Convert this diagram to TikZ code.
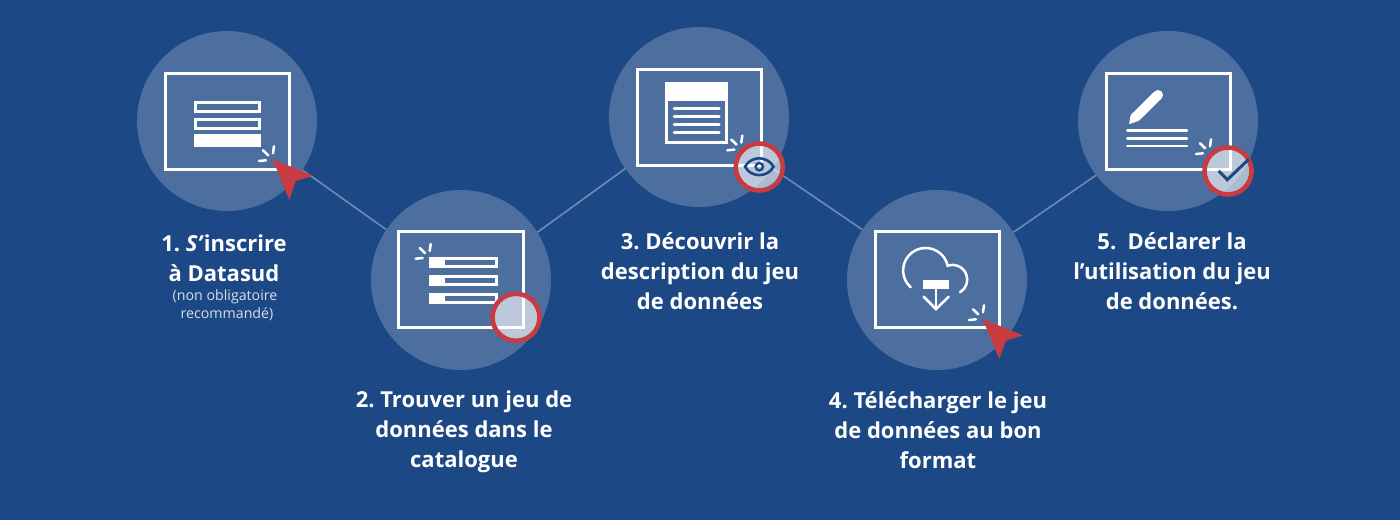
\documentclass[tikz,border=0pt]{standalone}
\usepackage{fontspec}
\setmainfont{Open Sans}
\definecolor{bgblue}{HTML}{1C4885}
\definecolor{discblue}{HTML}{4D6F9F}
\definecolor{linkblue}{HTML}{6F8BB3}
\definecolor{cursorred}{HTML}{C83C41}
\definecolor{smalltext}{HTML}{D5DEEA}

\begin{document}
\frenchspacing
\begin{tikzpicture}[>=stealth,x=1pt,y=-1pt,
    disc/.style={circle,fill=discblue,minimum size=180pt,inner sep=0pt},
    link/.style={draw=linkblue,line width=1.6pt},
    screen/.style={draw=white,line width=3pt},
    bar/.style={draw=white,line width=3pt},
    rule/.style={draw=white,line width=2.5pt,line cap=round},
    spark/.style={draw=white,line width=2.5pt,line cap=round},
    cursor/.style={fill=cursorred},
    lens/.style={circle,draw=cursorred,line width=4.6pt,fill=white,fill opacity=0.63,draw opacity=1,minimum size=47pt,inner sep=0pt},
    glyph/.style={draw=bgblue,line width=3pt},
    steplabel/.style={align=center,text=white,font=\fontsize{22}{30}\selectfont\bfseries,inner sep=0pt},
    smalllabel/.style={align=center,text=smalltext,font=\fontsize{14.2}{18}\selectfont,inner sep=0pt}]
    \useasboundingbox (0,0) rectangle (1400,520);
    \fill[bgblue] (0,0) rectangle (1400,520);
    % discs
    \node[disc] (disc1) at (227,121) {};
    \node[disc] (disc2) at (461,280) {};
    \node[disc] (disc3) at (699,117) {};
    \node[disc] (disc4) at (937,280) {};
    \node[disc] (disc5) at (1168,121) {};
    % links
    \draw[link] (disc1.-33.3) -- (disc2.146);
    \draw[link] (disc2.32.3) -- (disc3.215.9);
    \draw[link] (disc3.-35.5) -- (disc4.146.3);
    \draw[link] (disc4.32.2) -- (disc5.217.2);
    % screens
    \draw[screen] (165,73) rectangle (289,169);
    \draw[screen] (398.5,231.5) rectangle (523,327.5);
    \draw[screen] (637,69) rectangle (761,165);
    \draw[screen] (875,231.5) rectangle (999.5,327.5);
    \draw[screen] (1106,73) rectangle (1230,169);
    % sparks
    \foreach \dx/\dy in {0/0,156.7/97.7,468.3/-10.7,710/159,937/-7} {
        \draw[spark] (259+\dx,161+\dy) -- (266+\dx,160.3+\dy);
        \draw[spark] (263+\dx,150.3+\dy) -- (268.3+\dx,155.3+\dy);
        \draw[spark] (274+\dx,146.3+\dy) -- (273+\dx,153.3+\dy);
    }
    % form of step 1
    \draw[bar] (195.5,102.2) rectangle (259.2,111.2);
    \draw[bar] (195.5,119.2) rectangle (259.2,128.2);
    \fill[white] (194,134.3) rectangle (260.7,146.7);
    % list of step 2
    \foreach \y in {257,275,293} {
        \fill[white] (429.3,\y) rectangle (498,\y+11);
        \fill[discblue] (445,\y+3) rectangle (495,\y+8.3);
    }
    % sheet of step 3
    \fill[white] (665,82) rectangle (728,144);
    \fill[discblue] (668,101) rectangle (725,141);
    \foreach \y in {108.7,116.7,124.7,132.7} {
        \draw[rule] (674,\y) -- (719.3,\y);
    }
    % cloud of step 4
    \draw[rule] (910.7,287.3) arc[start angle=228.5,end angle=12,radius=22.5pt]
        arc[start angle=109.6,end angle=-59,radius=14.7pt];
    \fill[white] (923.3,280) rectangle (949.3,288.7);
    \draw[rule] (936,288.7) -- (936,309);
    \draw[rule] (923.7,296.7) -- (936,309) -- (948.7,296.7);
    % pencil of step 5
    \fill[white] (1158,95) circle[radius=5pt];
    \fill[white,rounded corners=0.8pt] (1154.5,91.5) -- (1161.5,98.5) -- (1139,120.7) -- (1129,124.3) -- (1130.7,115) -- cycle;
    \foreach \y in {130.7,138.3,146} {
        \draw[rule] (1127.3,\y) -- (1187,\y);
    }
    % cursors
    \fill[cursor] (272.7,159.3) -- (313.3,175.7) -- (295.7,181) -- (289.3,200) -- cycle;
    \fill[cursor] (982.7,319) -- (1023,335.3) -- (1006,340.7) -- (999.3,359) -- cycle;
    % lenses
    \node[lens] (lens2) at (516,317.3) {};
    \node[lens] (lens3) at (759.3,167) {};
    \node[lens] (lens5) at (1228,171) {};
    % eye
    \draw[glyph,line width=2.6pt] (745,166.7) .. controls (751,155.5) and (767.5,155.5) .. (773.5,166.7)
        .. controls (767.5,177.9) and (751,177.9) .. cycle;
    \draw[glyph,line width=2.4pt] (759.3,166.7) circle[radius=3.7pt];
    % check
    \draw[glyph] (1218.7,171) -- (1227.3,179.7) -- (1248.7,159.3);
    % labels
    \node[steplabel] (label1) at (224,258) {1. \textit{S’}inscrire\\à Datasud};
    \node[smalllabel] (note1) at (225,305) {(non obligatoire\\ \hspace{4pt}recommandé)};
    \node[steplabel] (label2) at (464,432) {2. Trouver un jeu de\\données dans le\\catalogue};
    \node[steplabel] (label3) at (700,271) {3. Découvrir la\\description du jeu\\de données};
    \node[steplabel] (label4) at (938,430) {4. Télécharger le jeu\\de données au bon\\format};
    \node[steplabel] (label5) at (1172,271) {5.\ \ Déclarer la\\l’utilisation du jeu\\de données.};
\end{tikzpicture}
\end{document}
